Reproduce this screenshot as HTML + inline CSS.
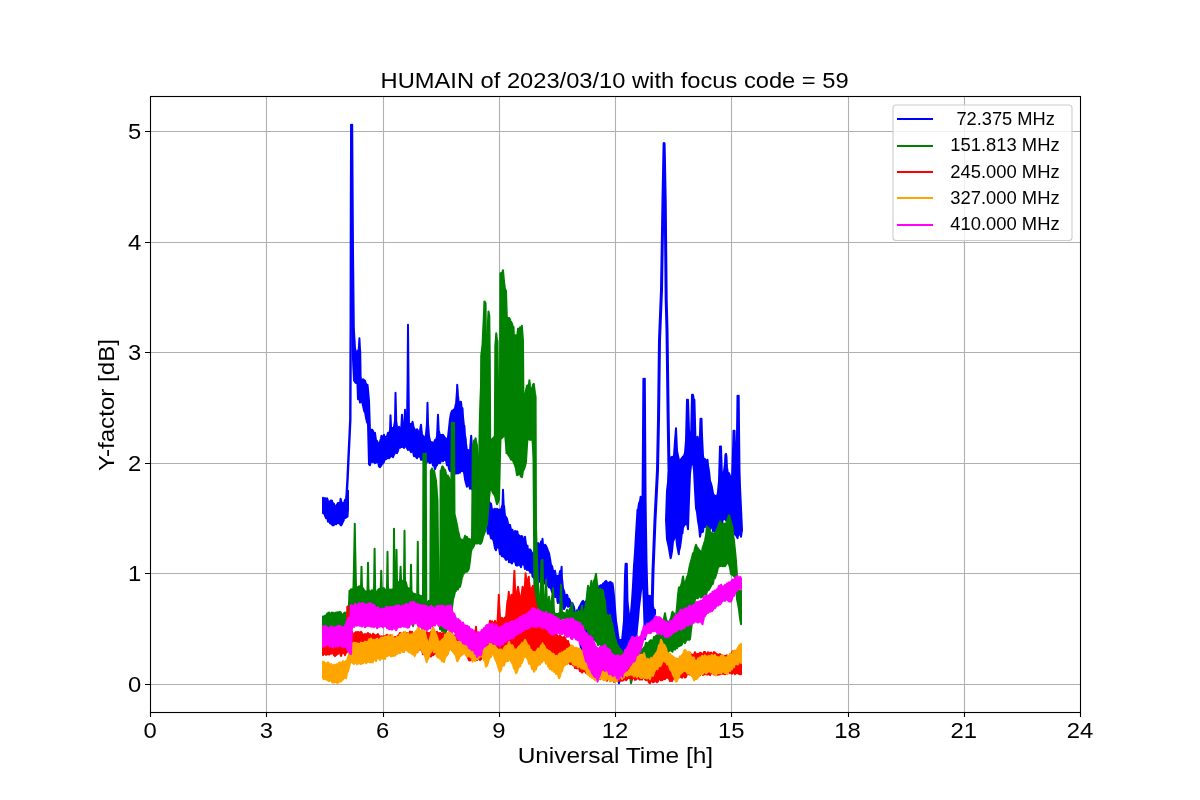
<!DOCTYPE html>
<html><head><meta charset="utf-8"><style>
html,body{margin:0;padding:0;background:#fff;}
svg{display:block;font-family:"Liberation Sans", sans-serif;will-change:transform;}
</style></head><body>
<svg width="1200" height="800" viewBox="0 0 1200 800">
<defs><clipPath id="ax"><rect x="150" y="96" width="931" height="617"/></clipPath></defs>
<rect x="0" y="0" width="1200" height="800" fill="#fff"/>
<path d="M266.5 96V712M383.5 96V712M499.5 96V712M615.5 96V712M731.5 96V712M848.5 96V712M964.5 96V712M150 684.5H1080M150 573.5H1080M150 463.5H1080M150 352.5H1080M150 242.5H1080M150 131.5H1080" stroke="#b0b0b0" stroke-width="1.1" fill="none"/>
<g clip-path="url(#ax)">
<polygon points="323.0,497.8 324.0,498.6 325.0,498.1 326.0,501.0 327.0,498.3 327.5,499.3 328.0,501.4 329.0,501.5 330.0,501.8 331.0,500.4 332.0,500.8 333.0,504.2 334.0,503.8 335.0,506.8 336.0,507.1 337.0,504.4 337.5,504.8 338.0,503.1 339.0,502.9 340.0,503.1 340.6,498.8 341.0,500.0 342.0,504.8 343.0,503.1 344.0,503.5 345.0,499.8 346.0,501.0 347.0,494.8 348.0,490.8 348.0,509.2 347.5,516.7 347.0,515.3 346.0,517.7 345.0,518.0 344.0,517.6 343.8,520.2 343.0,521.5 342.0,523.9 341.0,525.4 340.6,525.2 340.0,523.2 339.0,523.4 338.0,521.4 337.5,523.2 337.0,521.6 336.0,524.3 335.0,521.5 334.0,524.7 333.8,525.2 333.0,525.4 332.0,524.7 331.0,523.4 330.0,523.2 329.0,518.7 328.0,521.7 327.0,515.6 326.0,518.2 325.0,515.7 324.0,513.1 323.0,513.2" fill="#0000ff" stroke="#0000ff" stroke-width="2" stroke-linejoin="round"/>
<polyline points="346.0,505.0 347.5,480.0 348.4,460.0 349.5,437.0 350.3,420.0 350.7,330.0 351.0,200.0 351.3,124.0" fill="none" stroke="#0000ff" stroke-width="2.4" stroke-linejoin="round"/>
<polygon points="351.3,124.8 352.0,126.2 352.2,124.8 353.0,250.8 353.8,326.8 354.0,331.5 355.0,348.3 356.0,352.7 357.0,352.8 358.0,350.5 358.5,350.8 359.0,346.1 359.4,338.3 360.0,349.6 360.2,350.8 360.6,375.8 361.0,380.5 362.0,380.8 363.0,379.2 363.8,379.8 364.0,385.0 365.0,380.7 366.0,384.0 367.0,387.6 367.5,384.8 368.0,389.6 369.0,400.8 370.0,430.8 371.0,432.5 372.0,429.6 373.0,430.8 374.0,434.6 375.0,432.8 376.0,440.3 377.0,440.8 378.0,443.4 379.0,445.7 380.0,441.8 381.0,438.3 381.5,435.8 382.0,438.6 383.0,437.6 384.0,434.8 385.0,438.1 386.0,436.8 387.0,436.3 388.0,432.8 389.0,435.6 389.8,430.8 390.0,431.0 390.5,415.3 391.0,426.5 391.2,428.8 392.0,427.8 393.0,430.1 394.0,426.8 395.0,420.8 395.5,392.8 396.0,411.7 396.2,420.8 397.0,426.8 398.0,429.9 399.0,426.8 400.0,429.5 401.0,431.8 401.3,426.8 402.0,414.8 402.7,426.8 403.0,430.3 403.5,425.8 404.0,424.5 404.4,422.8 405.0,409.8 405.6,422.8 406.0,424.7 407.0,425.8 407.6,380.8 408.0,324.8 408.5,380.8 409.0,425.8 409.5,425.8 410.0,428.4 411.0,423.7 411.5,424.8 412.0,424.8 412.5,421.8 413.0,423.9 413.5,426.8 414.0,428.1 414.5,430.8 415.0,429.5 416.0,433.8 417.0,429.3 417.5,429.8 418.0,431.2 419.0,433.8 420.0,430.3 421.0,424.8 422.0,434.5 423.0,435.8 424.0,437.3 425.0,440.8 426.0,433.9 426.8,425.8 427.0,421.3 427.5,402.8 428.0,423.5 428.2,425.8 429.0,436.3 430.0,440.8 431.0,445.4 432.0,442.1 433.0,443.5 434.0,442.8 435.0,440.0 436.0,439.8 437.0,436.6 437.3,430.8 438.0,414.8 438.7,430.8 439.0,431.4 440.0,435.8 441.0,435.1 442.0,435.1 443.0,434.8 444.0,436.3 445.0,437.8 446.0,439.1 447.0,439.5 448.0,436.8 449.0,428.0 450.0,418.8 451.0,413.3 452.0,410.8 453.0,411.4 453.5,409.8 454.0,409.5 455.0,408.4 455.6,404.8 456.0,404.6 457.0,390.8 457.2,384.8 458.0,395.9 458.8,403.3 459.0,405.6 460.0,405.2 460.6,401.8 461.0,402.0 462.0,410.9 462.5,408.3 463.0,416.5 464.0,426.3 464.4,425.8 465.0,435.7 465.6,438.3 466.0,443.2 466.9,450.8 467.0,451.9 468.0,450.0 469.0,453.4 470.0,450.8 471.0,437.7 471.2,435.8 472.0,449.0 472.3,455.8 473.0,457.5 474.0,459.8 475.0,462.8 476.0,466.1 477.0,466.8 478.0,469.1 479.0,472.7 480.0,475.8 481.0,477.6 482.0,482.0 483.0,482.5 483.8,485.8 484.0,490.7 485.0,491.8 486.0,491.6 487.0,495.0 488.0,498.5 489.0,501.4 490.0,503.3 491.0,503.7 492.0,509.5 493.0,511.6 494.0,509.2 495.0,508.8 496.0,511.0 497.0,508.9 498.0,509.6 498.8,510.8 499.0,511.2 500.0,509.4 501.0,511.7 502.0,506.0 502.5,505.8 503.0,489.8 503.7,505.8 504.0,505.7 505.0,515.8 506.0,517.1 507.0,518.7 508.0,523.3 509.0,526.8 510.0,524.9 511.0,529.6 512.0,533.9 512.5,529.8 513.0,534.1 514.0,533.4 515.0,531.0 516.0,532.1 517.0,531.2 517.5,531.8 518.0,535.8 519.0,535.3 520.0,537.9 521.0,535.9 522.0,536.2 522.5,536.8 523.0,540.6 524.0,541.7 525.0,536.8 526.0,544.4 527.0,547.7 527.5,545.8 528.0,550.3 529.0,551.3 530.0,549.3 531.0,550.8 532.0,553.7 533.0,553.6 534.0,553.8 535.0,549.5 536.0,546.5 537.0,545.1 537.5,543.3 538.0,543.0 539.0,545.0 540.0,545.8 541.0,541.6 542.0,543.8 542.5,538.8 543.0,544.7 544.0,546.5 545.0,544.7 546.0,545.8 547.0,548.2 548.0,550.8 549.0,553.3 550.0,558.8 551.0,564.8 552.0,566.1 553.0,570.4 554.0,573.7 555.0,570.8 556.0,576.8 557.0,576.4 557.5,575.8 558.0,577.8 559.0,577.2 560.0,571.1 560.8,570.8 561.0,572.6 561.6,566.8 562.0,579.2 562.3,580.8 563.0,588.5 564.0,590.8 565.0,595.6 566.0,595.3 567.0,594.7 567.5,595.8 568.0,600.4 569.0,598.7 570.0,600.8 571.0,604.7 572.0,606.8 572.5,603.3 573.0,604.7 574.0,607.1 575.0,612.9 576.0,613.8 577.0,613.3 577.5,614.0 577.5,620.0 577.0,618.5 576.0,616.0 575.0,615.7 574.0,612.4 573.0,610.6 572.0,607.7 571.0,605.8 570.0,606.7 569.0,604.0 568.0,606.8 567.0,603.1 566.0,605.4 565.0,607.0 564.0,609.2 563.0,607.0 562.0,603.0 561.0,604.0 560.0,603.3 559.0,599.6 558.0,603.1 557.5,601.7 557.0,596.1 556.0,597.1 555.0,597.0 554.0,592.6 553.0,589.4 552.0,592.1 551.0,588.6 550.0,586.7 549.0,587.5 548.0,584.8 547.0,585.4 546.0,582.7 545.0,583.6 544.0,580.0 543.0,582.4 542.0,581.8 541.0,581.9 540.0,581.2 539.0,581.8 538.0,580.5 537.0,580.2 536.0,578.8 535.0,576.3 534.0,578.3 533.0,576.8 532.5,576.7 532.0,571.4 531.0,572.4 530.0,572.2 529.0,570.0 528.0,565.8 527.5,569.2 527.0,570.0 526.0,564.4 525.0,569.0 524.0,563.8 523.0,564.5 522.0,562.0 521.0,567.2 520.0,564.4 519.0,565.2 518.0,561.9 517.0,565.7 516.0,565.2 515.0,560.9 514.0,561.5 513.0,558.9 512.0,563.6 511.0,562.6 510.0,558.7 509.0,562.2 508.0,556.8 507.0,559.0 506.0,559.9 505.0,558.2 504.0,556.9 503.0,552.6 502.0,556.4 501.0,554.0 500.0,554.0 499.0,547.4 498.0,547.6 497.0,545.3 496.0,550.3 495.0,548.2 494.0,542.8 493.0,538.4 492.5,539.2 492.0,537.8 491.0,538.3 490.0,534.1 489.0,531.8 488.0,533.8 487.5,531.7 487.0,526.7 486.0,525.6 485.0,522.8 484.0,518.2 483.0,513.3 482.0,510.2 481.0,508.3 480.0,504.2 479.0,498.4 478.0,495.5 477.0,496.9 476.0,495.6 475.0,490.1 474.0,493.0 473.0,486.3 472.0,489.2 471.0,484.5 470.0,488.8 469.0,484.9 468.0,484.0 467.0,486.7 466.0,483.4 465.0,479.2 464.0,472.2 463.0,470.3 462.0,471.2 461.0,468.6 460.0,472.8 459.0,472.0 458.0,473.4 457.0,471.3 456.0,473.6 455.0,473.2 454.0,473.4 453.0,468.4 452.0,467.4 451.0,469.5 450.0,471.2 449.0,469.0 448.0,462.6 447.0,465.2 446.0,460.0 445.0,460.2 444.0,457.6 443.0,461.2 442.0,460.3 441.0,460.6 440.0,463.2 439.0,463.0 438.0,462.6 437.0,465.0 436.0,466.2 435.0,469.2 434.0,465.5 433.0,465.4 432.0,461.2 431.0,461.0 430.0,463.2 429.0,461.2 428.0,461.8 427.0,460.3 426.0,463.7 425.0,464.2 424.0,462.4 423.0,458.7 422.0,459.2 421.0,459.8 420.0,455.2 419.0,456.5 418.0,456.5 417.0,458.2 416.0,456.9 415.0,454.7 414.0,456.2 413.0,451.5 412.0,451.6 411.0,452.1 410.0,450.2 409.0,445.7 408.0,450.1 407.0,448.1 406.0,445.6 405.0,446.2 404.0,447.9 403.0,445.0 402.0,447.2 401.0,446.4 400.0,447.8 399.0,446.3 398.0,450.8 397.0,453.2 396.0,449.8 395.0,452.9 394.0,454.7 393.0,457.2 392.0,456.4 391.0,452.8 390.0,457.2 389.0,458.3 388.0,457.0 387.0,458.5 386.0,459.2 385.0,458.2 384.0,461.8 383.0,463.2 382.0,464.1 381.0,465.7 380.0,467.2 379.0,466.5 378.0,461.7 377.0,460.6 376.0,462.7 375.0,463.2 374.0,459.0 373.0,462.1 372.0,461.7 371.0,460.0 370.0,465.2 369.0,464.2 368.0,424.2 367.0,422.1 366.0,417.9 365.0,411.7 364.4,411.7 364.0,410.0 363.0,405.8 362.0,401.5 361.0,400.3 360.0,402.5 359.0,396.0 358.8,399.2 358.0,399.2 357.5,384.2 357.0,379.2 356.0,383.0 355.0,382.0 354.0,380.2 353.0,359.2 352.0,299.2 351.3,139.2" fill="#0000ff" stroke="#0000ff" stroke-width="2" stroke-linejoin="round"/>
<polygon points="576.0,612.8 577.0,610.4 578.0,611.3 579.0,607.6 580.0,605.8 581.0,603.9 582.0,601.9 583.0,600.8 584.0,602.8 585.0,602.5 586.0,601.3 587.0,599.4 588.0,598.8 589.0,596.8 590.0,595.0 591.0,593.7 592.0,590.8 593.0,588.8 594.0,588.1 595.0,585.7 596.0,583.8 597.0,587.2 598.0,587.7 599.0,586.5 600.0,585.8 601.0,585.1 602.0,587.1 603.0,583.7 604.0,583.1 605.0,581.8 606.0,580.9 607.0,582.4 608.0,582.8 609.0,582.9 610.0,581.8 611.0,582.3 612.0,584.1 612.5,583.3 613.0,586.6 614.0,595.8 615.0,608.4 616.0,620.8 617.0,626.9 618.0,634.8 619.0,640.8 620.0,640.1 621.0,640.0 622.0,640.8 623.0,631.1 624.0,620.8 625.0,575.8 625.6,563.8 626.0,563.8 626.8,563.8 627.0,575.8 627.5,600.8 628.0,606.0 629.0,614.8 630.0,620.8 631.0,612.5 632.0,600.8 633.0,585.2 634.0,565.8 635.0,552.3 636.0,534.4 637.0,518.2 637.5,509.8 638.0,510.6 639.0,503.2 640.0,501.2 640.6,496.8 641.0,499.3 642.0,499.0 642.5,500.8 643.0,435.4 643.4,378.8 644.0,381.4 644.8,378.8 645.0,410.8 645.6,500.8 646.0,529.4 646.5,560.8 647.0,580.6 647.5,595.8 648.0,595.4 649.0,596.9 650.0,595.8 651.0,599.4 652.0,600.8 653.0,606.5 654.0,609.7 655.0,610.0 655.0,614.0 654.0,616.3 653.0,619.2 652.0,621.6 651.0,629.2 650.0,628.0 649.0,624.9 648.0,624.2 647.0,628.3 646.0,633.1 645.0,639.2 644.0,609.0 643.0,579.2 642.0,584.1 641.0,590.7 640.0,599.2 639.0,607.5 638.0,619.1 637.0,629.2 636.0,639.9 635.0,650.1 634.0,659.2 633.0,656.6 632.0,656.4 631.0,653.5 630.0,654.2 629.0,656.6 628.0,659.2 627.0,661.2 626.0,663.1 625.0,664.2 624.0,667.6 623.0,672.7 622.0,679.2 621.0,678.4 620.0,680.1 619.0,683.2 618.0,680.0 617.0,678.1 616.0,675.4 615.0,674.2 614.0,669.3 613.0,668.2 612.0,668.3 611.0,664.3 610.0,664.2 609.0,662.1 608.0,660.8 607.0,658.1 606.0,654.2 605.0,654.2 604.0,652.8 603.0,648.5 602.0,647.0 601.0,645.1 600.0,644.2 599.0,641.2 598.0,640.0 597.0,642.1 596.0,639.2 595.0,639.2 594.0,639.4 593.0,641.7 592.0,643.7 591.0,645.9 590.0,649.2 589.0,648.1 588.0,652.2 587.0,652.4 586.0,654.2 585.0,653.6 584.0,653.0 583.0,651.2 582.0,648.4 581.0,649.2 580.0,641.4 579.0,634.6 578.0,629.8 577.0,622.9 576.0,619.2" fill="#0000ff" stroke="#0000ff" stroke-width="2" stroke-linejoin="round"/>
<polyline points="652.0,612.0 653.0,571.0 655.0,520.0 656.5,490.0 657.5,470.0 658.5,420.0 659.5,340.0 661.5,290.0 663.0,200.0 664.1,143.5 665.2,200.0 666.2,300.0 667.0,330.0 668.2,420.0 669.0,470.0" fill="none" stroke="#0000ff" stroke-width="3.0" stroke-linejoin="round"/>
<polygon points="666.0,520.0 667.0,490.8 668.0,482.3 668.5,470.8 669.0,472.1 670.0,460.8 671.0,457.4 672.0,456.8 673.0,457.8 674.0,455.8 675.0,440.8 676.0,428.3 677.0,450.8 678.0,455.8 679.0,460.3 680.0,462.0 681.0,459.4 681.5,458.3 682.0,458.0 683.0,456.7 684.0,455.8 685.0,452.9 686.0,440.8 687.0,399.8 688.0,399.8 689.0,430.8 690.0,435.7 691.0,440.8 692.0,394.8 693.0,394.8 694.0,400.7 694.4,399.8 695.0,421.6 695.5,440.8 696.0,441.7 697.0,442.5 697.5,436.8 698.0,440.8 699.0,450.8 700.0,433.3 700.5,418.8 701.0,420.6 701.5,418.8 702.0,435.4 703.0,455.8 704.0,460.5 705.0,459.1 706.0,460.8 707.0,464.5 707.5,459.8 708.0,465.1 709.0,470.8 710.0,480.8 711.0,483.5 712.0,487.3 712.5,490.8 713.0,493.5 714.0,495.2 715.0,495.8 716.0,496.3 717.0,495.2 717.5,495.8 718.0,491.5 719.0,480.8 720.0,446.4 721.0,446.4 722.0,478.8 722.5,479.8 723.0,477.4 724.0,470.8 725.0,463.3 725.4,454.8 726.0,453.9 726.4,455.8 727.0,467.4 727.5,470.8 728.0,475.8 729.0,473.1 730.0,475.8 731.0,482.3 732.0,479.8 733.0,450.3 733.5,430.8 734.0,435.2 734.5,430.8 735.0,446.2 735.5,460.8 736.0,466.7 736.5,470.8 737.0,434.4 737.5,395.8 738.0,400.8 738.7,395.8 739.0,426.3 739.5,470.8 740.0,486.8 741.0,508.3 742.0,530.0 742.0,530.0 741.0,536.7 740.0,533.8 739.0,533.3 738.0,535.8 737.5,538.2 737.0,537.1 736.0,535.3 735.0,534.4 734.0,530.9 733.0,530.7 732.0,528.2 731.0,526.7 730.0,524.2 729.0,521.8 728.0,517.2 727.0,516.8 726.0,520.3 725.0,519.2 724.0,519.1 723.0,518.0 722.0,524.1 721.0,526.0 720.0,527.2 719.0,529.1 718.0,529.1 717.0,529.6 716.0,533.2 715.0,532.1 714.0,529.1 713.0,531.0 712.0,525.7 711.0,526.6 710.0,529.2 709.0,527.5 708.0,526.0 707.0,523.9 706.0,524.2 705.0,527.0 704.0,523.8 703.0,531.6 702.0,532.2 701.0,531.9 700.0,536.7 699.0,526.2 698.0,521.0 697.0,512.1 696.0,508.2 695.0,490.4 694.0,470.2 693.0,462.4 692.5,463.2 692.0,463.3 691.0,465.2 690.0,474.2 689.0,499.2 688.0,529.2 687.0,522.3 686.0,524.2 685.0,524.2 684.0,525.6 683.0,527.7 682.5,533.2 682.0,531.3 681.0,540.7 680.0,547.5 679.0,551.0 678.8,554.2 678.0,550.0 677.0,544.7 676.0,535.0 675.0,534.2 674.0,539.3 673.0,541.2 672.0,551.4 671.0,557.2 670.6,558.2 670.0,554.7 669.0,548.5 668.0,543.6 667.0,539.2 666.0,520.0" fill="#0000ff" stroke="#0000ff" stroke-width="2" stroke-linejoin="round"/>
<polygon points="323.0,616.4 324.0,616.4 325.0,615.7 326.0,615.5 327.0,614.2 327.5,613.3 328.0,613.7 329.0,612.5 330.0,613.3 331.0,615.9 332.0,612.5 333.0,613.9 333.8,612.8 334.0,614.3 335.0,615.1 336.0,612.4 337.0,612.4 338.0,612.2 339.0,612.6 340.0,611.8 341.0,613.0 342.0,615.4 343.0,615.4 343.8,613.3 344.0,615.8 345.0,612.6 346.0,612.8 347.0,615.5 348.0,616.3 348.5,613.8 349.0,603.2 349.5,590.8 350.0,592.2 350.6,590.8 351.0,589.3 352.0,589.5 353.0,590.2 353.5,586.8 354.0,563.9 354.8,523.8 355.0,538.8 356.0,586.8 357.0,589.7 358.0,586.9 358.8,586.8 359.0,586.3 360.0,586.5 361.0,586.8 361.5,566.8 362.0,586.8 363.0,588.7 364.0,590.0 365.0,591.8 366.0,591.6 367.0,592.1 367.5,590.8 368.0,562.8 368.5,590.8 369.0,592.9 369.6,590.8 370.0,591.7 371.0,592.1 372.0,590.1 373.0,593.0 374.0,590.8 374.6,548.8 375.0,576.8 375.2,590.8 376.0,593.2 377.0,591.8 378.0,590.1 379.0,589.0 380.0,589.1 380.7,588.8 381.0,580.6 381.2,570.8 381.8,588.8 382.0,590.6 383.0,588.3 384.0,588.2 385.0,589.9 386.0,590.2 387.0,588.8 387.5,551.8 388.0,588.8 389.0,589.8 390.0,589.5 391.0,591.3 392.0,589.4 393.0,590.9 393.5,590.8 394.0,528.8 394.6,590.8 395.0,591.7 396.0,590.8 396.5,549.8 397.0,580.8 398.0,583.6 399.0,582.4 400.0,580.8 400.6,566.8 401.0,578.7 401.2,580.8 402.0,581.8 403.0,580.8 404.0,580.8 404.5,530.8 405.0,580.8 406.0,582.7 407.0,587.3 408.0,588.1 409.0,588.4 410.0,589.1 410.5,590.8 411.0,564.8 411.5,590.8 412.0,592.3 413.0,593.8 414.0,593.7 415.0,594.0 416.0,596.5 417.0,598.3 417.2,595.8 417.8,541.8 418.0,566.3 418.3,595.8 419.0,595.0 420.0,596.2 421.0,595.8 422.0,597.5 423.0,597.8 423.4,453.8 424.0,455.6 425.0,453.7 425.8,453.8 426.0,514.8 426.3,600.8 427.0,602.8 428.0,601.9 429.0,600.7 430.0,603.7 430.3,600.8 430.8,470.8 431.0,470.7 432.0,468.5 433.0,471.9 434.0,470.8 435.0,475.8 436.0,480.8 437.0,494.1 437.5,500.8 438.0,545.7 438.2,560.8 438.5,605.8 439.0,606.1 440.0,608.6 440.3,605.8 440.6,470.8 441.0,470.9 442.0,467.3 442.5,466.3 443.0,467.0 444.0,469.1 445.0,469.8 446.0,473.5 447.0,476.6 448.0,475.8 449.0,478.0 450.0,480.8 451.0,498.1 451.2,500.8 451.8,422.8 452.0,422.7 453.0,425.7 454.0,422.8 454.5,513.8 455.0,515.9 456.0,520.4 457.0,525.3 458.0,530.8 459.0,534.6 460.0,539.8 460.5,538.8 461.0,541.0 462.0,539.8 463.0,540.1 464.0,539.2 465.0,535.8 466.0,536.9 467.0,537.1 468.0,540.8 469.0,538.8 470.0,541.5 471.0,539.4 472.0,540.8 472.8,445.8 473.0,446.7 474.0,440.8 475.0,439.8 475.6,438.3 476.0,441.0 477.0,445.8 477.8,482.8 478.0,483.2 478.8,482.8 479.0,470.2 479.8,420.8 480.0,413.2 480.4,400.8 481.0,385.8 481.2,355.8 482.0,349.4 482.5,344.8 483.0,333.8 484.0,313.4 484.4,301.4 485.0,301.9 485.6,303.3 486.0,356.8 487.0,359.7 487.6,356.8 488.0,320.8 488.5,311.4 489.0,314.1 489.3,315.8 489.8,360.8 490.0,399.8 490.2,437.8 491.0,440.1 492.0,440.1 493.0,438.6 494.0,437.1 494.8,437.8 495.0,401.9 495.3,345.8 496.0,337.1 496.2,333.3 497.0,340.5 497.5,340.8 498.0,380.8 499.0,380.7 500.0,380.8 500.4,273.3 501.0,273.1 502.0,273.9 502.9,270.2 503.0,270.4 504.0,281.4 504.4,284.6 505.0,289.2 506.0,290.8 506.9,319.6 507.0,321.6 508.0,318.1 508.8,318.3 509.0,317.9 510.0,319.4 511.0,324.1 511.2,321.8 512.0,323.6 513.0,327.7 513.5,326.8 514.0,337.7 514.4,341.8 515.0,338.9 515.6,335.2 516.0,335.5 516.9,335.8 517.0,338.0 518.0,328.8 519.0,329.5 520.0,327.4 521.0,328.4 521.9,325.8 522.0,327.5 523.0,340.8 523.5,408.8 524.0,404.6 525.0,395.8 526.0,389.9 527.0,385.8 528.0,385.5 529.0,383.8 529.4,380.2 530.0,385.7 531.0,390.8 532.0,391.0 533.0,384.9 533.8,383.8 534.0,385.6 535.0,393.5 535.6,396.8 536.0,526.8 537.0,560.8 538.0,583.6 539.0,600.8 540.0,603.6 540.5,600.8 541.0,581.4 541.5,560.8 542.0,560.4 542.5,559.8 543.0,581.1 543.5,600.8 544.0,603.5 545.0,605.8 546.0,579.8 547.0,605.8 548.0,604.0 549.0,596.8 550.0,610.8 551.0,603.1 552.0,598.0 553.0,588.3 554.0,612.0 555.0,614.0 556.0,614.3 557.0,614.1 558.0,614.3 559.0,613.2 560.0,612.8 561.0,584.8 562.0,612.8 563.0,612.6 564.0,613.0 565.0,614.9 566.0,613.8 567.0,609.8 568.0,614.0 569.0,611.2 570.0,608.7 571.0,607.8 572.0,602.8 573.0,614.0 574.0,613.4 575.0,612.7 576.0,611.9 577.0,613.2 578.0,611.7 578.7,610.8 579.0,614.2 580.0,612.8 581.0,611.8 582.0,605.8 583.0,613.8 584.0,615.8 585.0,609.9 586.0,603.2 586.5,600.8 587.0,595.3 588.0,585.8 589.0,590.2 589.5,590.8 590.0,590.0 591.0,583.7 591.4,580.8 592.0,586.3 592.5,590.8 593.0,588.2 594.0,580.8 595.0,578.8 596.0,573.8 597.0,583.5 597.5,585.8 598.0,590.3 598.5,590.8 599.0,592.5 600.0,588.8 601.0,591.2 602.0,589.7 603.0,590.8 604.0,598.2 605.0,600.8 606.0,614.5 607.0,614.8 608.0,616.0 609.0,615.3 610.0,614.8 611.0,621.2 612.0,623.5 612.5,625.8 613.0,628.5 614.0,633.7 615.0,638.8 616.0,640.8 617.0,646.0 618.0,645.8 619.0,648.4 620.0,648.7 621.0,650.2 622.0,650.8 623.0,653.6 624.0,652.4 625.0,652.8 626.0,652.8 627.0,655.1 628.0,652.8 629.0,655.4 630.0,657.8 631.0,655.8 632.0,655.3 633.0,656.8 634.0,658.1 635.0,658.2 636.0,655.8 637.0,657.5 638.0,653.1 639.0,653.0 640.0,651.4 641.0,650.8 642.0,649.0 643.0,650.5 644.0,647.4 645.0,647.1 646.0,642.8 647.0,642.9 648.0,644.3 649.0,642.2 650.0,640.8 651.0,640.1 652.0,641.3 653.0,641.1 654.0,637.0 655.0,638.1 656.0,635.8 657.0,636.1 658.0,633.2 659.0,632.6 660.0,630.8 661.0,627.0 662.0,623.7 663.0,620.4 664.0,618.2 665.0,613.3 666.0,619.1 667.0,621.5 668.0,625.8 669.0,621.8 670.0,620.0 671.0,618.2 672.0,613.2 672.5,611.8 673.0,612.7 674.0,613.4 675.0,616.9 676.0,615.8 677.0,607.0 678.0,595.1 678.8,588.3 679.0,587.5 680.0,587.6 681.0,585.8 682.0,582.3 683.0,576.4 684.0,582.7 685.0,585.8 686.0,581.1 687.0,577.1 688.0,575.0 689.0,569.7 690.0,564.8 691.0,561.2 692.0,557.4 693.0,553.3 694.0,553.3 695.0,548.0 696.0,544.8 697.0,547.6 698.0,548.3 699.0,550.0 700.0,550.8 701.0,552.3 702.0,551.8 702.5,548.3 703.0,547.3 704.0,543.7 705.0,540.8 706.0,535.5 707.0,526.4 708.0,527.8 709.0,528.5 710.0,530.8 711.0,534.0 712.0,532.8 713.0,535.0 714.0,533.3 715.0,532.5 716.0,532.8 717.0,528.8 718.0,527.6 719.0,524.4 720.0,521.8 720.6,521.4 721.0,523.0 722.0,524.1 723.0,525.9 724.0,523.5 725.0,524.8 726.0,523.9 727.0,520.5 728.0,518.7 729.0,515.2 730.0,518.2 731.0,522.0 732.0,526.3 732.5,526.8 733.0,534.2 734.0,540.8 735.0,550.3 736.0,560.8 737.0,575.8 738.0,588.8 739.0,590.5 740.0,592.4 741.0,590.8 741.0,624.2 740.0,618.2 739.0,609.7 738.0,603.8 737.0,599.2 736.0,585.6 735.0,576.7 734.0,576.4 733.0,575.1 732.0,574.4 731.0,574.2 730.0,567.6 729.0,564.2 728.0,562.7 727.0,563.2 726.0,564.5 725.0,566.2 724.0,565.4 723.0,566.4 722.0,563.9 721.0,566.0 720.0,565.6 719.0,566.7 718.0,566.8 717.0,572.0 716.0,574.9 715.0,578.3 714.0,577.6 713.0,583.4 712.5,584.2 712.0,582.5 711.0,586.1 710.0,587.8 709.0,589.6 708.0,590.3 707.0,591.3 706.0,595.2 705.0,593.7 704.0,593.8 703.0,596.9 702.0,595.1 701.0,597.5 700.0,596.3 699.0,595.9 698.0,598.2 697.0,598.3 696.0,596.1 695.0,599.2 694.0,607.1 693.0,612.9 692.0,622.7 691.0,630.2 690.0,639.2 689.0,640.0 688.0,638.2 687.0,640.0 686.0,640.6 685.0,643.1 684.0,639.9 683.0,641.3 682.0,644.1 681.0,645.5 680.0,645.2 679.0,646.3 678.0,644.6 677.0,648.3 676.0,646.2 675.0,649.6 674.0,649.2 673.0,649.4 672.5,651.7 672.0,651.2 671.0,649.5 670.0,650.7 669.0,650.8 668.0,652.2 667.0,649.8 666.0,648.8 665.0,651.2 664.0,651.3 663.0,650.7 662.0,654.3 661.0,655.3 660.0,655.1 659.0,658.0 658.0,659.3 657.0,661.4 656.0,661.7 655.0,660.9 654.0,661.4 653.0,661.8 652.0,659.6 651.0,662.2 650.0,662.2 649.0,661.5 648.0,660.1 647.0,659.4 646.0,661.7 645.0,661.0 644.0,661.1 643.0,661.8 642.0,665.8 641.0,666.3 640.0,666.8 639.0,668.0 638.0,665.6 637.0,669.2 636.0,668.9 635.0,671.4 634.0,676.8 633.0,676.0 632.0,678.6 631.0,683.2 630.0,674.6 629.0,670.0 628.0,664.2 627.0,661.1 626.0,661.5 625.0,659.2 624.0,657.7 623.0,657.5 622.0,658.2 621.0,656.3 620.0,655.8 619.0,658.0 618.0,657.8 617.0,656.7 616.0,656.5 615.0,655.1 614.0,652.3 613.0,655.0 612.5,654.2 612.0,654.7 611.0,653.6 610.0,650.0 609.0,652.6 608.0,649.9 607.0,650.9 606.0,650.2 605.0,648.9 604.0,646.9 603.0,647.2 602.0,644.9 601.0,645.6 600.0,643.6 599.0,643.8 598.0,645.2 597.0,641.5 596.0,641.5 595.0,638.2 594.0,638.0 593.0,636.5 592.0,635.4 591.0,632.9 590.0,634.2 589.0,632.9 588.0,631.3 587.0,627.9 586.0,629.2 585.0,628.3 584.0,626.2 583.0,624.9 582.0,627.2 581.0,623.7 580.0,624.2 579.0,622.6 578.0,621.2 577.0,621.9 576.0,618.4 575.0,620.9 574.0,618.6 573.0,619.8 572.0,620.3 571.0,619.2 570.0,620.2 569.0,617.9 568.0,620.0 567.0,618.6 566.0,619.7 565.0,618.6 564.0,618.0 563.0,618.5 562.0,617.4 561.0,618.9 560.0,619.2 559.0,619.7 558.0,618.7 557.0,619.7 556.0,619.0 555.0,617.9 554.0,616.5 553.0,616.5 552.0,615.2 551.0,614.6 550.0,616.7 549.0,617.3 548.0,614.3 547.0,613.8 546.0,613.1 545.0,616.2 544.0,614.9 543.0,614.6 542.0,614.9 541.0,612.2 540.0,614.2 539.0,611.7 538.0,611.3 537.0,610.0 536.0,610.7 535.0,610.0 534.5,609.2 534.0,531.4 533.5,459.2 533.0,448.0 532.5,439.2 532.0,440.1 531.0,437.1 530.0,439.9 529.0,439.2 528.0,438.5 527.5,439.2 527.0,445.5 526.0,461.7 525.0,466.2 524.0,469.2 523.0,470.6 522.0,477.2 521.0,476.7 520.0,474.4 519.0,473.2 518.0,474.8 517.0,475.2 516.0,468.6 515.0,465.2 514.0,463.1 513.0,460.7 512.0,458.8 511.0,459.7 510.0,457.2 509.0,455.9 508.0,454.2 507.0,451.6 506.5,453.2 506.0,444.4 505.0,434.2 504.0,433.7 503.0,436.9 502.0,437.9 501.0,438.6 500.5,439.2 500.0,456.4 499.0,499.2 498.0,502.1 497.0,504.2 496.0,499.9 495.0,496.0 494.0,494.2 493.0,493.1 492.0,490.3 491.0,489.1 490.0,489.2 489.0,499.2 488.0,511.7 487.0,524.2 486.0,527.0 485.0,531.4 484.0,534.2 483.0,536.7 482.0,541.1 481.0,543.2 480.0,544.0 479.0,541.6 478.0,543.2 477.0,543.6 476.0,543.2 475.0,542.3 474.0,545.5 473.0,547.5 472.0,548.5 471.0,551.7 470.0,560.3 469.0,568.2 468.0,570.3 467.0,571.7 466.0,571.8 465.0,571.7 464.0,573.4 463.0,573.1 462.5,576.7 462.0,577.1 461.0,582.6 460.0,586.7 459.0,585.4 458.0,589.4 457.0,587.7 456.0,590.9 455.0,591.7 454.0,595.9 453.0,599.6 452.5,604.2 452.0,608.3 451.0,616.6 450.0,627.2 449.0,625.4 448.0,629.5 447.0,628.6 446.0,631.4 445.0,633.2 444.0,630.8 443.0,628.6 442.0,631.3 441.0,627.5 440.0,629.2 439.0,618.8 438.0,611.2 437.0,609.8 436.0,608.5 435.0,610.4 434.0,609.3 433.0,609.6 432.0,611.1 431.0,608.4 430.0,610.7 429.0,607.8 428.0,608.5 427.0,607.4 426.0,610.4 425.0,610.2 424.0,610.7 423.0,609.5 422.0,608.7 421.0,609.5 420.0,609.7 419.0,606.8 418.0,608.3 417.0,609.6 416.0,609.2 415.0,612.6 414.0,620.4 413.0,626.2 412.0,617.9 411.0,615.1 410.0,609.2 409.0,607.2 408.0,608.7 407.0,609.8 406.0,606.5 405.0,607.0 404.0,609.5 403.0,606.5 402.0,606.4 401.0,608.2 400.0,606.3 399.0,609.3 398.0,606.9 397.0,607.2 396.0,606.2 395.0,606.8 394.0,609.6 393.0,606.4 392.0,608.6 391.0,608.1 390.0,609.9 389.0,608.1 388.0,607.1 387.0,607.2 386.0,609.8 385.0,607.6 384.0,609.9 383.0,608.1 382.0,608.4 381.0,609.7 380.0,608.4 379.0,609.6 378.0,609.7 377.0,608.3 376.0,609.4 375.0,608.3 374.0,607.1 373.0,607.1 372.0,609.2 371.0,608.2 370.0,607.7 369.0,610.0 368.0,608.4 367.0,608.4 366.0,607.5 365.0,608.4 364.0,607.8 363.0,608.5 362.0,608.9 361.0,607.7 360.0,608.0 359.0,607.8 358.0,609.6 357.0,606.8 356.0,610.0 355.0,607.1 354.0,607.9 353.0,609.9 352.0,606.6 351.0,607.3 350.0,609.2 349.0,629.2 348.0,629.1 347.0,629.6 346.0,628.6 345.0,628.1 344.0,628.5 343.0,629.2 342.0,629.4 341.0,626.9 340.0,626.8 339.0,628.5 338.0,629.2 337.0,627.0 336.0,629.5 335.0,626.9 334.0,627.7 333.0,626.6 332.0,628.6 331.0,626.5 330.0,629.9 329.0,628.2 328.0,626.3 327.0,626.4 326.0,629.6 325.0,629.3 324.0,626.3 323.0,629.2" fill="#008000" stroke="#008000" stroke-width="2" stroke-linejoin="round"/>
<polygon points="323.0,642.8 324.0,643.6 325.0,644.9 326.0,644.2 327.0,642.4 328.0,643.7 329.0,645.4 330.0,642.8 331.0,642.6 332.0,643.1 333.0,644.6 334.0,645.2 335.0,642.5 336.0,642.5 337.0,642.9 338.0,643.2 339.0,643.9 340.0,642.5 341.0,643.2 342.0,642.6 343.0,645.7 344.0,644.7 345.0,642.8 346.0,641.0 346.5,640.8 347.0,622.4 347.3,606.8 348.0,606.3 348.2,606.8 349.0,640.8 350.0,638.4 351.0,637.7 352.0,631.8 353.0,634.1 354.0,634.0 355.0,632.9 356.0,632.0 357.0,633.9 358.0,631.9 359.0,632.4 360.0,633.2 361.0,631.9 362.0,633.4 363.0,635.0 364.0,634.7 365.0,634.1 366.0,634.7 367.0,634.1 368.0,633.0 369.0,634.9 370.0,634.2 371.0,635.6 372.0,636.3 373.0,633.8 374.0,634.6 375.0,635.3 376.0,636.0 377.0,634.8 378.0,634.1 379.0,636.1 380.0,636.8 381.0,636.5 382.0,636.3 383.0,636.9 384.0,636.3 385.0,636.3 386.0,635.6 387.0,634.8 388.0,635.5 389.0,637.1 390.0,635.4 391.0,636.2 392.0,638.8 393.0,638.9 394.0,638.2 395.0,637.0 396.0,636.9 397.0,636.6 398.0,635.7 399.0,635.3 400.0,632.8 401.0,633.4 402.0,634.4 403.0,635.4 404.0,632.4 405.0,634.2 406.0,634.6 407.0,633.1 408.0,633.4 409.0,635.3 410.0,631.5 411.0,633.5 412.0,631.9 413.0,634.3 414.0,634.9 415.0,633.2 416.0,631.5 417.0,633.3 418.0,633.1 419.0,633.7 420.0,631.8 421.0,632.9 422.0,633.5 423.0,634.3 424.0,633.1 425.0,632.8 426.0,634.9 427.0,632.1 428.0,634.0 429.0,632.9 430.0,634.4 431.0,631.9 432.0,635.3 433.0,632.9 434.0,631.8 435.0,632.7 436.0,633.3 437.0,631.8 438.0,633.4 439.0,633.5 440.0,632.8 441.0,634.7 442.0,633.4 443.0,633.2 444.0,633.1 445.0,635.2 446.0,636.0 447.0,634.5 448.0,633.4 449.0,635.7 450.0,634.2 451.0,633.6 452.0,633.4 453.0,636.0 454.0,636.2 455.0,635.6 456.0,635.0 457.0,635.5 458.0,634.2 459.0,637.2 460.0,634.9 461.0,636.1 462.0,636.9 463.0,636.9 464.0,635.6 465.0,634.8 466.0,636.2 467.0,638.4 468.0,638.0 469.0,642.0 470.0,640.8 471.0,641.3 472.0,643.2 473.0,640.9 474.0,641.4 475.0,640.8 476.0,626.8 477.0,640.8 478.0,640.6 479.0,641.1 480.0,639.9 481.0,638.9 482.0,641.5 483.0,639.5 484.0,639.1 485.0,638.8 486.0,635.5 487.0,632.6 488.0,628.8 489.0,626.0 490.0,620.8 491.0,622.5 492.0,621.3 493.0,623.5 494.0,623.2 495.0,620.8 496.0,625.1 497.0,630.8 498.0,613.1 498.8,594.8 499.0,601.3 500.0,617.8 501.0,620.2 502.0,617.8 502.5,618.3 503.0,620.6 504.0,619.9 505.0,617.5 506.0,618.3 507.0,605.8 507.5,600.8 508.0,600.0 508.8,591.8 509.0,595.3 510.0,600.8 511.0,596.9 511.5,594.8 512.0,596.3 513.0,600.8 514.0,579.0 514.4,570.8 515.0,587.2 515.5,600.8 516.0,600.1 517.0,592.9 518.0,586.8 519.0,593.5 520.0,600.8 521.0,597.8 522.0,591.8 522.5,586.8 523.0,589.6 524.0,595.8 525.0,584.3 525.6,573.3 526.0,578.1 526.5,580.8 527.0,582.1 528.0,579.8 528.8,576.8 529.0,581.4 530.0,589.0 530.5,590.8 531.0,592.2 532.0,587.7 533.0,585.8 534.0,595.1 535.0,600.8 536.0,605.0 537.0,608.8 538.0,610.6 539.0,615.3 540.0,615.8 541.0,618.3 542.0,618.4 543.0,619.6 544.0,620.4 545.0,623.1 546.0,622.6 547.0,625.5 548.0,625.5 549.0,628.1 550.0,629.3 551.0,630.8 552.0,630.8 553.0,633.9 554.0,631.2 555.0,635.1 556.0,634.2 557.0,635.2 558.0,636.2 559.0,637.6 560.0,635.8 561.0,636.8 562.0,637.3 563.0,639.8 564.0,636.8 565.0,637.8 566.0,640.7 567.0,642.0 568.0,640.9 569.0,644.5 570.0,646.1 571.0,648.3 572.0,647.3 573.0,651.1 574.0,650.6 575.0,650.8 576.0,652.3 577.0,654.4 578.0,651.5 579.0,654.7 580.0,654.8 581.0,654.2 582.0,656.8 583.0,655.3 584.0,656.3 585.0,655.8 586.0,658.3 587.0,660.7 588.0,659.9 589.0,662.2 590.0,662.8 591.0,663.8 592.0,664.7 593.0,666.0 594.0,664.2 595.0,666.6 596.0,665.3 597.0,666.0 598.0,665.4 599.0,666.6 600.0,665.8 601.0,668.9 602.0,667.9 603.0,668.6 604.0,667.0 605.0,667.1 606.0,667.3 607.0,668.6 608.0,669.0 609.0,669.8 610.0,667.1 611.0,669.9 612.0,670.8 613.0,669.6 614.0,667.9 615.0,668.8 616.0,668.8 617.0,667.4 618.0,667.9 619.0,670.5 620.0,669.0 621.0,669.0 622.0,669.2 623.0,669.4 624.0,668.0 625.0,667.8 626.0,667.6 627.0,665.8 628.0,667.6 629.0,667.2 630.0,667.6 631.0,665.7 632.0,667.5 633.0,666.7 634.0,667.9 635.0,665.3 636.0,665.6 637.0,665.0 638.0,667.9 639.0,668.5 640.0,665.8 641.0,667.2 642.0,665.7 643.0,667.2 644.0,666.8 645.0,665.6 646.0,664.1 647.0,664.0 648.0,664.1 649.0,663.4 650.0,662.8 651.0,663.4 652.0,664.0 653.0,664.9 654.0,661.3 655.0,663.1 656.0,660.9 657.0,661.0 658.0,663.5 659.0,662.3 660.0,660.8 661.0,663.5 662.0,661.6 663.0,660.0 664.0,661.4 665.0,662.2 666.0,663.6 667.0,663.7 668.0,661.8 669.0,661.5 670.0,660.8 671.0,660.1 672.0,662.0 673.0,660.1 674.0,659.7 675.0,659.0 676.0,658.7 677.0,661.2 678.0,658.8 679.0,661.9 680.0,658.8 681.0,657.6 682.0,660.1 683.0,656.6 684.0,655.6 685.0,657.7 686.0,655.2 687.0,656.6 688.0,653.8 689.0,652.7 690.0,652.8 691.0,654.9 692.0,654.7 693.0,655.2 694.0,654.7 695.0,652.2 696.0,654.4 697.0,654.7 698.0,653.7 699.0,655.5 700.0,652.8 701.0,652.9 702.0,655.7 703.0,654.7 704.0,651.9 705.0,652.0 706.0,654.4 707.0,655.1 708.0,652.2 709.0,653.1 710.0,654.7 711.0,652.5 712.0,655.3 713.0,653.8 714.0,652.1 715.0,652.8 716.0,653.6 717.0,654.7 718.0,654.5 719.0,655.7 720.0,654.0 721.0,656.8 722.0,655.4 723.0,656.8 724.0,657.1 725.0,655.8 726.0,656.0 727.0,655.4 728.0,656.5 729.0,656.6 730.0,655.5 731.0,654.1 732.0,652.5 733.0,651.1 734.0,654.2 735.0,650.8 736.0,653.5 737.0,654.8 738.0,653.7 739.0,655.6 740.0,657.9 741.0,655.8 741.0,674.2 740.0,674.2 739.0,673.9 738.0,673.3 737.0,672.7 736.0,673.0 735.0,674.2 734.0,673.1 733.0,671.9 732.0,673.7 731.0,671.8 730.0,673.2 729.0,672.0 728.0,671.9 727.0,671.1 726.0,672.4 725.0,674.3 724.0,673.8 723.0,673.7 722.0,673.3 721.0,673.9 720.0,674.2 719.0,674.6 718.0,674.7 717.0,674.7 716.0,673.2 715.0,673.5 714.0,674.4 713.0,673.4 712.0,671.8 711.0,673.2 710.0,675.1 709.0,673.1 708.0,674.5 707.0,674.6 706.0,672.1 705.0,674.2 704.0,673.9 703.0,675.0 702.0,673.6 701.0,672.4 700.0,675.2 699.0,674.1 698.0,675.2 697.0,673.8 696.0,675.5 695.0,674.1 694.0,676.6 693.0,673.3 692.0,673.5 691.0,673.8 690.0,674.6 689.0,673.5 688.0,674.3 687.0,673.6 686.0,677.0 685.0,677.5 684.0,675.7 683.0,676.1 682.0,677.6 681.0,675.9 680.0,677.2 679.0,677.1 678.0,676.4 677.0,677.7 676.0,678.7 675.0,676.5 674.0,676.8 673.0,678.9 672.0,681.1 671.0,678.4 670.0,681.2 669.0,678.5 668.0,677.7 667.0,677.8 666.0,676.7 665.0,679.2 664.0,678.8 663.0,679.5 662.0,680.3 661.0,680.3 660.0,678.9 659.0,678.7 658.0,681.2 657.0,682.2 656.0,681.2 655.0,680.1 654.0,681.9 653.0,682.2 652.0,680.2 651.0,680.7 650.0,683.2 649.0,682.7 648.0,679.6 647.0,679.5 646.0,680.3 645.0,679.2 644.0,676.7 643.0,677.8 642.0,679.6 641.0,678.5 640.0,679.6 639.0,679.0 638.0,678.1 637.0,678.2 636.0,679.6 635.0,679.9 634.0,677.3 633.0,676.7 632.0,679.7 631.0,677.4 630.0,678.1 629.0,677.9 628.0,677.8 627.0,679.2 626.0,680.2 625.0,679.7 624.0,677.9 623.0,680.4 622.0,680.8 621.0,677.9 620.0,680.3 619.0,681.0 618.0,680.9 617.0,680.9 616.0,678.2 615.0,681.2 614.0,681.9 613.0,679.7 612.0,679.6 611.0,679.6 610.0,679.5 609.0,677.6 608.0,677.8 607.0,680.8 606.0,678.0 605.0,679.3 604.0,677.9 603.0,679.2 602.0,677.0 601.0,677.0 600.0,679.2 599.0,676.8 598.0,678.6 597.0,676.6 596.0,676.4 595.0,675.6 594.0,677.1 593.0,674.3 592.0,674.7 591.0,675.0 590.0,674.2 589.0,673.4 588.0,671.3 587.0,673.5 586.0,672.9 585.0,670.2 584.0,671.4 583.0,669.5 582.0,672.6 581.0,670.5 580.0,671.2 579.0,668.0 578.0,667.3 577.0,668.5 576.0,665.8 575.0,668.0 574.0,664.6 573.0,665.1 572.0,663.0 571.0,664.2 570.0,664.0 569.0,662.6 568.0,660.3 567.0,658.6 566.0,658.2 565.0,659.2 564.0,657.7 563.0,659.3 562.0,659.0 561.0,658.2 560.0,657.7 559.0,659.8 558.0,659.8 557.0,659.3 556.0,657.3 555.0,657.1 554.0,659.4 553.0,659.6 552.0,657.9 551.0,659.2 550.0,659.2 549.0,655.5 548.0,656.4 547.0,656.4 546.0,654.0 545.0,651.9 544.0,654.1 543.0,652.6 542.0,650.8 541.0,648.0 540.0,649.2 539.0,650.3 538.0,646.8 537.0,649.7 536.0,648.3 535.0,651.1 534.0,648.1 533.0,650.7 532.0,651.7 531.0,648.7 530.0,648.7 529.0,649.0 528.0,651.7 527.0,652.6 526.0,652.6 525.0,652.7 524.0,652.2 523.0,653.5 522.0,652.0 521.0,651.4 520.0,654.2 519.0,654.6 518.0,650.8 517.0,653.9 516.0,650.6 515.0,652.6 514.0,651.7 513.0,652.7 512.0,651.8 511.0,649.6 510.0,651.5 509.0,651.7 508.0,650.5 507.0,650.8 506.0,648.2 505.0,650.8 504.0,648.9 503.0,648.1 502.0,650.4 501.0,649.5 500.0,649.2 499.0,649.9 498.0,648.3 497.0,649.2 496.0,648.2 495.0,650.4 494.0,650.3 493.0,650.0 492.0,649.5 491.0,649.5 490.0,653.1 489.0,652.0 488.0,653.6 487.0,651.0 486.0,651.4 485.0,654.2 484.0,652.7 483.0,656.7 482.0,655.2 481.0,659.2 480.0,660.0 479.0,659.3 478.0,657.3 477.0,660.1 476.0,657.5 475.0,659.2 474.0,659.7 473.0,659.5 472.0,659.9 471.0,658.9 470.0,660.4 469.0,660.2 468.0,657.8 467.0,655.3 466.0,653.9 465.0,651.2 464.0,649.0 463.0,649.5 462.0,650.5 461.0,648.9 460.0,647.8 459.0,648.4 458.0,650.6 457.0,650.8 456.0,647.1 455.0,648.2 454.0,647.9 453.0,647.4 452.0,650.2 451.0,647.0 450.0,649.2 449.0,647.1 448.0,647.6 447.0,650.2 446.0,651.1 445.0,652.4 444.0,652.2 443.0,649.7 442.0,650.3 441.0,654.0 440.0,654.2 439.0,653.6 438.0,654.0 437.0,653.1 436.0,652.2 435.0,653.6 434.0,654.1 433.0,655.5 432.0,653.0 431.0,656.4 430.0,656.2 429.0,655.3 428.0,654.2 427.0,656.0 426.0,652.4 425.0,652.0 424.0,653.6 423.0,654.2 422.0,650.0 421.0,649.6 420.0,649.2 419.0,649.7 418.0,649.3 417.0,648.6 416.0,648.3 415.0,648.7 414.0,647.6 413.0,644.6 412.0,644.9 411.0,644.9 410.0,643.9 409.0,645.7 408.0,644.1 407.0,645.8 406.0,644.4 405.0,644.5 404.0,642.7 403.0,642.0 402.0,645.5 401.0,645.3 400.0,644.2 399.0,643.1 398.0,643.8 397.0,642.8 396.0,644.5 395.0,642.8 394.0,643.4 393.0,644.7 392.0,643.6 391.0,642.0 390.0,644.2 389.0,645.0 388.0,644.6 387.0,643.2 386.0,643.6 385.0,643.0 384.0,643.8 383.0,642.6 382.0,644.6 381.0,644.6 380.0,644.6 379.0,643.1 378.0,643.6 377.0,643.4 376.0,642.0 375.0,642.0 374.0,643.3 373.0,644.6 372.0,642.6 371.0,642.5 370.0,645.3 369.0,643.9 368.0,642.6 367.0,642.8 366.0,644.7 365.0,645.0 364.0,644.0 363.0,643.2 362.0,643.5 361.0,645.0 360.0,642.3 359.0,643.0 358.0,645.2 357.0,642.9 356.0,643.8 355.0,645.7 354.0,644.7 353.0,642.5 352.0,645.2 351.0,644.8 350.0,645.6 349.0,649.2 348.0,648.3 347.0,652.0 346.0,652.4 345.0,655.2 344.0,652.7 343.0,652.9 342.0,652.9 341.0,655.9 340.0,652.6 339.0,652.9 338.0,653.8 337.0,654.5 336.0,655.1 335.0,656.1 334.0,655.0 333.0,653.0 332.0,652.6 331.0,653.8 330.0,653.4 329.0,654.6 328.0,652.6 327.0,654.4 326.0,654.9 325.0,653.8 324.0,652.9 323.0,655.2" fill="#ff0000" stroke="#ff0000" stroke-width="2" stroke-linejoin="round"/>
<polygon points="323.0,661.8 324.0,662.0 325.0,663.4 326.0,663.2 327.0,664.3 328.0,662.3 329.0,663.9 330.0,666.2 331.0,664.0 332.0,665.5 333.0,665.5 334.0,664.8 335.0,664.7 336.0,667.1 337.0,664.1 338.0,665.6 339.0,662.9 340.0,662.2 341.0,665.0 342.0,662.9 343.0,661.1 344.0,662.1 345.0,661.9 346.0,660.8 347.0,661.2 348.0,657.1 348.5,656.8 349.0,653.1 350.0,645.8 351.0,647.4 352.0,643.3 353.0,645.1 354.0,642.6 355.0,643.1 356.0,642.9 357.0,644.0 358.0,643.5 359.0,644.2 360.0,643.9 361.0,642.5 362.0,643.2 363.0,643.0 364.0,642.8 365.0,641.5 366.0,642.5 367.0,642.0 368.0,642.6 369.0,639.3 370.0,642.0 371.0,638.4 372.0,641.1 373.0,640.2 374.0,639.7 375.0,641.3 376.0,639.5 377.0,638.7 378.0,639.9 379.0,640.1 380.0,638.8 381.0,637.7 382.0,637.8 383.0,637.6 384.0,638.4 385.0,636.5 386.0,636.7 387.0,637.1 388.0,636.2 389.0,635.8 390.0,637.4 391.0,637.4 392.0,634.8 393.0,637.3 394.0,638.6 394.7,638.8 395.0,638.4 396.0,638.1 397.0,636.7 398.0,637.7 399.0,636.9 400.0,634.8 401.0,633.6 402.0,636.3 403.0,633.4 404.0,634.8 405.0,631.8 406.0,634.7 407.0,635.8 408.0,633.4 409.0,634.8 410.0,637.3 411.0,634.4 412.0,635.8 413.0,633.5 414.0,634.0 415.0,632.2 416.0,632.3 417.0,630.2 418.0,627.8 418.7,625.5 419.0,629.7 420.0,631.9 420.5,632.8 421.0,632.1 422.0,629.2 423.0,623.8 424.0,628.4 425.0,632.3 426.0,637.2 427.0,640.3 428.0,643.8 429.0,643.2 430.0,638.7 431.0,634.7 432.0,629.7 433.0,626.8 434.0,629.5 435.0,631.7 436.0,634.5 437.0,636.7 438.0,640.0 439.0,642.5 440.0,641.8 441.0,641.4 442.0,639.8 443.0,639.1 444.0,639.2 445.0,634.8 446.0,634.4 447.0,634.2 448.0,634.4 449.0,631.0 450.0,630.7 451.0,629.5 452.0,634.5 453.0,635.9 454.0,636.7 455.0,637.2 456.0,642.3 457.0,641.8 458.0,642.3 459.0,641.6 460.0,641.0 461.0,636.8 462.0,640.7 463.0,640.2 464.0,640.8 465.0,642.5 466.0,644.8 467.0,645.7 468.0,647.2 469.0,646.8 470.0,648.7 471.0,648.3 472.0,649.2 472.5,649.8 473.0,651.4 474.0,651.5 475.0,650.7 476.0,653.4 477.0,652.2 478.0,650.8 479.0,649.6 480.0,650.7 481.0,651.7 482.0,649.4 483.0,650.5 484.0,648.3 485.0,646.6 486.0,646.9 487.0,648.2 488.0,646.4 489.0,645.8 490.0,643.3 491.0,643.7 492.0,645.3 493.0,646.1 494.0,645.4 495.0,645.8 496.0,648.1 497.0,648.3 498.0,650.8 499.0,649.8 500.0,649.8 501.0,649.4 502.0,650.2 502.5,650.8 503.0,652.2 504.0,648.2 505.0,646.8 506.0,645.7 507.0,645.7 508.0,645.5 509.0,641.8 510.0,644.6 511.0,646.7 512.0,645.1 513.0,646.3 514.0,650.6 515.0,649.8 516.0,649.4 517.0,650.1 518.0,647.9 519.0,646.4 520.0,645.8 521.0,644.7 522.0,642.9 523.0,644.8 524.0,642.4 525.0,639.8 526.0,641.9 527.0,644.0 528.0,645.4 529.0,645.8 530.0,650.7 531.0,649.8 532.0,651.6 533.0,653.4 534.0,651.8 535.0,652.9 536.0,651.8 537.0,650.6 538.0,648.5 539.0,650.6 540.0,649.0 541.0,645.6 542.0,646.6 542.5,643.3 543.0,646.2 544.0,645.3 545.0,647.6 546.0,650.2 547.0,649.5 548.0,652.5 549.0,650.8 550.0,651.6 551.0,652.8 552.0,654.8 553.0,653.6 554.0,654.7 555.0,657.6 556.0,655.8 557.0,656.2 558.0,656.9 559.0,654.2 560.0,653.4 561.0,653.5 562.0,652.3 563.0,654.8 564.0,651.6 565.0,650.8 566.0,651.3 567.0,648.7 568.0,649.5 569.0,648.1 570.0,647.3 571.0,645.8 572.0,645.5 573.0,646.2 574.0,649.3 575.0,647.8 576.0,647.8 577.0,648.0 577.5,648.3 578.0,648.8 579.0,649.1 580.0,648.9 581.0,651.9 582.0,651.2 583.0,651.0 584.0,651.8 585.0,655.2 586.0,654.3 587.0,656.5 588.0,660.2 589.0,658.9 590.0,660.8 591.0,662.6 592.0,665.2 593.0,666.0 594.0,664.5 595.0,666.3 596.0,668.7 597.0,668.4 598.0,671.6 599.0,669.7 600.0,670.8 601.0,672.9 602.0,672.1 603.0,671.2 604.0,672.2 605.0,671.1 606.0,673.5 607.0,671.9 608.0,673.7 609.0,673.4 610.0,672.7 611.0,672.3 612.0,673.9 613.0,672.5 614.0,675.2 615.0,672.8 616.0,672.4 617.0,674.0 618.0,673.3 619.0,673.1 620.0,674.3 621.0,672.8 622.0,673.9 623.0,673.6 624.0,672.7 625.0,673.0 626.0,671.9 627.0,672.3 627.5,672.5 628.0,674.0 629.0,670.2 630.0,669.8 631.0,666.7 632.0,666.7 633.0,664.2 634.0,663.0 635.0,660.4 636.0,657.8 637.0,657.0 637.5,655.8 638.0,655.6 639.0,654.8 640.0,656.7 641.0,654.7 642.0,654.7 643.0,656.3 644.0,653.3 645.0,656.9 646.0,658.8 647.0,660.3 648.0,658.9 649.0,660.8 650.0,659.9 651.0,657.9 652.0,659.3 653.0,658.2 654.0,655.9 655.0,655.1 656.0,653.3 657.0,652.3 658.0,649.7 659.0,645.3 660.0,644.9 661.0,639.8 662.0,642.0 663.0,644.8 664.0,644.7 665.0,646.1 666.0,648.3 667.0,652.5 668.0,653.3 669.0,654.7 670.0,653.6 671.0,655.8 672.0,655.7 673.0,656.8 674.0,657.5 675.0,658.5 676.0,659.5 677.0,658.7 677.5,659.8 678.0,659.4 679.0,659.4 680.0,656.3 681.0,657.5 682.0,655.1 683.0,654.4 684.0,651.2 685.0,649.8 686.0,651.3 687.0,653.0 688.0,652.4 689.0,651.7 690.0,653.3 691.0,656.9 692.0,657.9 693.0,657.3 694.0,657.6 695.0,662.0 696.0,660.8 697.0,661.5 698.0,658.5 699.0,658.5 700.0,657.3 701.0,659.1 702.0,656.1 702.5,655.8 703.0,658.5 704.0,657.8 705.0,655.2 706.0,657.6 707.0,656.4 708.0,657.8 709.0,655.8 710.0,658.0 711.0,655.7 712.0,654.8 713.0,657.9 714.0,655.7 715.0,654.8 716.0,657.7 717.0,656.9 718.0,657.3 719.0,657.8 720.0,657.2 721.0,655.8 722.0,656.8 723.0,655.4 724.0,658.1 725.0,657.2 726.0,657.7 727.0,659.4 727.5,656.8 728.0,655.9 729.0,657.5 730.0,653.8 731.0,655.4 732.0,654.9 733.0,651.8 734.0,650.8 735.0,651.0 736.0,651.7 737.0,649.4 738.0,648.0 739.0,645.8 740.0,644.9 741.0,643.8 741.0,663.2 740.0,660.9 739.0,661.4 738.0,664.5 737.0,664.2 736.0,663.8 735.0,663.3 734.0,667.2 733.0,666.2 732.0,669.3 731.0,668.6 730.0,671.2 729.0,669.9 728.0,672.1 727.5,674.2 727.0,674.1 726.0,672.8 725.0,673.0 724.0,670.6 723.0,671.8 722.5,671.7 722.0,672.2 721.0,673.2 720.0,672.8 719.0,673.2 718.0,671.2 717.0,673.3 716.0,675.4 715.0,675.2 714.0,672.1 713.0,673.3 712.0,671.3 711.0,672.4 710.0,669.3 709.0,671.7 708.0,670.7 707.0,672.7 706.0,673.4 705.0,671.9 704.0,670.9 703.0,673.6 702.5,674.2 702.0,671.8 701.0,674.0 700.0,674.0 699.0,676.4 698.0,677.1 697.0,678.7 696.0,679.0 695.0,679.2 694.0,680.2 693.0,677.4 692.0,676.4 691.0,674.8 690.0,674.2 689.0,671.0 688.0,673.7 687.0,672.6 686.0,671.1 685.0,670.9 684.0,670.2 683.0,671.6 682.0,672.5 681.0,673.5 680.0,673.0 679.0,677.0 678.0,678.4 677.0,680.9 676.0,681.7 675.0,678.9 674.0,676.3 673.0,675.0 672.0,671.8 671.0,670.2 670.0,669.2 669.0,665.7 668.0,664.1 667.0,664.4 666.0,661.4 665.0,661.7 664.0,659.9 663.0,661.2 662.0,662.5 661.0,665.5 660.0,666.2 659.0,666.1 658.0,667.1 657.5,669.2 657.0,667.7 656.0,668.7 655.0,670.4 654.0,672.6 653.0,676.0 652.0,673.6 651.0,675.0 650.0,679.2 649.0,677.8 648.0,677.5 647.0,678.5 646.0,677.3 645.0,678.0 644.0,677.8 643.0,676.1 642.0,677.9 641.0,678.1 640.0,677.2 639.0,674.0 638.0,675.8 637.0,677.3 636.0,675.8 635.0,674.6 634.0,676.6 633.0,675.0 632.0,674.7 631.0,673.7 630.0,674.7 629.0,674.9 628.0,675.4 627.5,675.0 627.0,676.0 626.0,674.5 625.0,673.9 624.0,677.2 623.0,677.3 622.0,678.9 621.0,677.4 620.0,677.0 619.0,678.7 618.0,678.3 617.0,680.8 616.0,680.1 615.0,681.7 614.0,680.9 613.0,679.5 612.0,678.8 611.0,681.1 610.0,681.5 609.0,678.3 608.0,678.6 607.0,679.0 606.0,680.2 605.0,679.3 604.0,680.3 603.0,676.5 602.5,679.2 602.0,677.0 601.0,678.4 600.0,678.3 599.0,677.2 598.0,680.1 597.0,679.3 596.0,678.3 595.0,680.2 594.0,679.1 593.0,677.3 592.0,677.9 591.0,674.6 590.0,676.5 589.0,675.2 588.0,674.8 587.0,673.3 586.0,670.2 585.0,668.0 584.0,669.2 583.0,668.0 582.0,668.6 581.0,668.0 580.0,665.9 579.0,664.6 578.0,667.4 577.5,666.7 577.0,664.1 576.0,664.5 575.0,665.5 574.0,662.9 573.0,664.4 572.0,661.1 571.0,659.6 570.0,661.7 569.0,660.4 568.0,662.5 567.0,664.2 566.0,662.2 565.0,665.2 564.0,665.6 563.0,667.5 562.0,671.3 561.0,671.9 560.0,676.3 559.0,678.2 558.0,674.7 557.0,673.5 556.0,673.9 555.0,671.7 554.0,671.7 553.0,669.6 552.0,670.4 551.0,668.3 550.0,669.2 549.0,667.3 548.0,665.9 547.0,662.8 546.0,663.4 545.0,660.3 544.0,659.2 543.0,660.4 542.0,662.4 541.0,660.8 540.0,664.6 539.0,663.3 538.0,665.4 537.0,665.1 536.0,669.4 535.0,669.8 534.0,671.7 533.0,667.7 532.0,668.9 531.0,664.8 530.0,662.1 529.0,663.8 528.0,659.6 527.0,658.1 526.0,657.1 525.0,656.7 524.0,656.1 523.0,659.6 522.0,662.8 521.0,663.3 520.0,666.5 519.0,666.3 518.0,668.4 517.0,671.8 516.0,673.2 515.0,669.5 514.0,668.5 513.0,664.9 512.0,662.9 511.0,661.5 510.0,659.2 509.0,658.7 508.0,661.0 507.0,661.0 506.0,661.7 505.0,660.9 504.0,665.5 503.0,665.5 502.0,665.8 501.0,670.2 500.0,671.7 499.0,669.7 498.0,666.1 497.0,663.0 496.0,660.7 495.0,658.6 494.0,655.5 493.0,653.9 492.5,653.2 492.0,652.6 491.0,656.9 490.0,657.5 489.0,658.7 488.0,662.7 487.0,665.4 486.0,666.7 485.0,661.3 484.0,660.5 483.0,657.9 482.5,656.7 482.0,655.3 481.0,656.5 480.0,655.1 479.0,657.1 478.0,658.7 477.5,659.2 477.0,658.0 476.0,658.2 475.0,661.1 474.0,658.7 473.0,659.9 472.5,661.7 472.0,658.3 471.0,657.3 470.0,656.7 469.0,655.6 468.0,654.3 467.5,656.7 467.0,655.3 466.0,655.2 465.0,653.2 464.0,651.9 463.0,653.9 462.0,654.8 461.0,655.6 460.0,656.2 459.0,658.0 458.0,660.0 457.3,661.2 457.0,660.9 456.0,656.0 455.0,654.3 454.0,653.0 453.0,651.9 452.0,650.3 451.0,648.0 450.7,648.2 450.0,648.6 449.0,650.1 448.0,653.6 447.0,655.2 446.0,655.9 445.0,657.7 444.0,662.2 443.0,658.9 442.0,661.3 441.0,657.6 440.0,658.8 439.0,656.9 438.0,657.6 437.3,656.2 437.0,656.4 436.0,651.6 435.0,652.3 434.0,652.1 433.0,648.7 432.0,649.2 431.0,652.2 430.0,652.7 429.0,656.3 428.0,659.3 427.0,660.4 426.7,662.2 426.0,659.7 425.0,655.9 424.0,653.9 423.0,652.6 422.0,650.1 421.0,648.7 420.0,648.2 419.0,648.4 418.0,652.0 417.0,652.7 416.0,651.9 415.0,655.2 414.7,656.2 414.0,654.4 413.0,654.4 412.0,653.8 411.0,651.1 410.0,652.8 409.0,651.9 408.0,651.5 407.0,649.9 406.0,649.6 405.0,649.7 404.0,652.1 403.0,649.2 402.7,651.9 402.0,649.8 401.0,651.0 400.0,653.2 399.0,653.1 398.0,651.4 397.0,654.2 396.0,652.5 395.0,655.8 394.0,655.8 393.0,655.7 392.0,656.2 391.0,656.4 390.0,655.1 389.0,654.3 388.0,655.7 387.0,656.0 386.0,655.2 385.0,659.0 384.0,657.2 383.0,658.8 382.0,658.1 381.0,658.2 380.0,659.9 379.0,658.4 378.0,657.1 377.0,658.4 376.0,661.1 375.0,658.8 374.0,658.1 373.0,662.2 372.0,662.3 371.0,662.2 370.0,662.2 369.0,661.8 368.0,661.5 367.0,662.2 366.0,663.2 365.0,662.0 364.0,661.1 363.0,663.2 362.0,663.0 361.0,664.0 360.0,663.5 359.0,663.1 358.0,663.5 357.0,664.3 356.0,661.6 355.0,662.0 354.0,664.2 353.0,663.1 352.0,662.3 351.0,661.8 350.0,663.2 349.0,667.4 348.0,671.2 347.0,672.6 346.0,678.2 345.0,677.6 344.0,677.1 343.0,679.6 342.0,679.3 341.0,681.5 340.0,679.2 339.0,682.1 338.0,682.4 337.5,683.2 337.0,680.4 336.0,682.1 335.0,681.6 334.0,682.5 333.0,682.4 332.0,682.2 331.0,680.0 330.0,679.5 329.0,681.2 328.0,680.1 327.0,680.1 326.0,678.8 325.0,678.6 324.0,679.3 323.0,678.2" fill="#ffa500" stroke="#ffa500" stroke-width="2" stroke-linejoin="round"/>
<polygon points="323.0,626.4 324.0,626.8 325.0,626.0 326.0,626.2 327.0,627.6 328.0,628.9 329.0,628.0 330.0,629.1 331.0,626.3 332.0,626.8 333.0,628.4 334.0,628.0 335.0,627.1 336.0,628.1 337.0,626.8 338.0,625.7 339.0,627.1 340.0,625.7 341.0,627.9 342.0,626.8 343.0,627.4 344.0,627.8 345.0,626.4 346.0,623.7 347.0,620.8 348.0,619.7 348.5,617.8 349.0,620.0 350.0,626.8 351.0,604.8 352.0,607.4 353.0,605.9 354.0,607.4 355.0,603.7 356.0,605.8 357.0,606.1 358.0,604.4 359.0,603.4 360.0,603.6 361.0,603.4 362.0,605.7 363.0,603.0 364.0,605.7 365.0,604.1 366.0,604.4 367.0,604.5 368.0,604.3 369.0,604.6 370.0,602.8 371.0,604.7 372.0,604.2 373.0,606.3 374.0,604.9 375.0,607.2 376.0,607.9 377.0,608.4 378.0,607.1 379.0,609.4 380.0,610.7 381.0,609.2 382.0,608.8 383.0,608.7 384.0,609.4 385.0,610.8 386.0,607.4 387.0,606.7 388.0,608.3 389.0,608.7 390.0,606.8 391.0,608.8 392.0,607.1 393.0,609.5 394.0,606.5 395.0,608.4 396.0,605.8 397.0,605.4 398.0,605.8 399.0,605.4 400.0,607.0 401.0,607.1 402.0,605.8 403.0,605.3 404.0,607.9 405.0,605.3 406.0,604.1 407.0,603.9 408.0,605.8 409.0,606.2 410.0,602.9 411.0,602.0 412.0,604.6 413.0,602.2 414.0,601.8 415.0,605.2 416.0,603.7 417.0,604.7 418.0,604.0 419.0,606.2 420.0,605.3 421.0,604.8 422.0,605.5 423.0,608.1 424.0,605.3 425.0,608.1 426.0,605.8 427.0,606.8 428.0,608.3 429.0,607.3 430.0,609.0 431.0,605.8 432.0,607.7 433.0,607.0 434.0,608.9 435.0,609.0 436.0,607.7 437.0,606.0 438.0,606.0 439.0,606.0 440.0,605.8 441.0,606.6 442.0,605.8 443.0,605.7 444.0,607.9 445.0,607.4 446.0,606.1 447.0,608.8 448.0,605.7 449.0,607.1 450.0,605.5 451.0,605.8 452.0,610.8 453.0,613.3 454.0,613.4 455.0,615.8 456.0,618.8 457.0,620.1 458.0,619.0 459.0,620.2 460.0,620.8 461.0,622.5 462.0,624.7 463.0,622.5 464.0,625.2 465.0,625.6 466.0,625.7 467.0,626.8 467.5,625.8 468.0,628.7 469.0,626.9 470.0,630.3 471.0,629.1 472.0,631.5 472.5,629.8 473.0,632.6 474.0,630.7 475.0,634.0 476.0,635.2 477.0,633.2 477.5,633.3 478.0,632.3 479.0,632.2 480.0,635.1 481.0,631.8 482.0,629.7 483.0,632.1 484.0,627.9 485.0,629.0 486.0,625.8 487.0,624.9 488.0,624.8 489.0,626.4 490.0,623.7 491.0,624.3 492.0,626.2 492.5,623.3 493.0,625.5 494.0,626.7 495.0,627.7 496.0,624.6 497.0,626.0 498.0,628.8 499.0,629.0 500.0,627.8 501.0,626.4 502.0,627.7 503.0,626.0 504.0,626.2 505.0,624.3 506.0,623.4 507.0,626.6 507.5,623.3 508.0,623.5 509.0,625.3 510.0,622.0 511.0,623.1 512.0,621.4 513.0,622.2 514.0,620.9 515.0,620.8 516.0,621.9 517.0,619.1 518.0,620.8 519.0,619.2 520.0,617.0 521.0,617.3 522.0,617.2 522.5,615.8 523.0,618.2 524.0,615.5 525.0,614.5 526.0,616.9 527.0,616.1 527.5,613.3 528.0,614.9 529.0,612.3 530.0,611.1 531.0,610.6 532.0,609.1 533.0,608.2 533.8,608.3 534.0,609.5 535.0,609.5 536.0,610.5 537.0,610.1 538.0,609.1 539.0,612.2 540.0,610.8 541.0,612.6 542.0,612.4 543.0,612.5 544.0,613.3 545.0,614.6 546.0,611.8 547.0,614.8 548.0,614.6 549.0,613.8 550.0,614.0 551.0,614.8 552.0,617.5 552.5,614.8 553.0,615.8 554.0,616.6 555.0,617.4 556.0,617.2 557.0,621.3 558.0,618.2 559.0,619.8 560.0,621.3 561.0,622.5 562.0,619.9 563.0,621.3 564.0,620.4 565.0,619.8 566.0,619.6 567.0,619.2 568.0,618.6 569.0,621.2 570.0,620.7 571.0,618.3 572.0,621.5 573.0,618.7 574.0,621.7 575.0,620.8 576.0,622.6 577.0,622.8 577.5,621.8 578.0,622.5 579.0,625.9 580.0,622.9 581.0,626.6 582.0,627.8 582.5,625.8 583.0,628.1 584.0,630.8 585.0,631.8 586.0,635.6 587.0,633.4 588.0,635.8 589.0,637.0 590.0,635.8 591.0,637.4 592.0,639.7 592.5,638.3 593.0,639.9 594.0,642.5 595.0,644.8 596.0,647.0 597.0,647.7 597.5,648.3 598.0,649.6 599.0,648.8 600.0,647.1 601.0,648.2 602.0,646.3 603.0,648.4 604.0,646.2 605.0,644.8 606.0,647.8 607.0,648.1 608.0,649.1 609.0,649.2 610.0,650.0 611.0,654.1 612.0,653.7 613.0,654.7 614.0,655.9 615.0,655.8 616.0,657.9 617.0,655.6 618.0,655.2 619.0,657.6 620.0,656.0 621.0,656.6 622.0,657.2 622.5,654.8 623.0,656.6 624.0,654.9 625.0,650.1 626.0,649.8 627.0,649.9 627.5,646.8 628.0,648.1 629.0,643.4 630.0,641.5 631.0,639.9 632.0,637.3 632.5,636.8 633.0,637.3 634.0,639.0 635.0,637.9 636.0,637.7 637.0,636.2 638.0,637.4 639.0,639.8 640.0,636.8 641.0,635.9 642.0,632.2 643.0,629.5 644.0,625.8 645.0,627.4 646.0,626.7 647.0,623.7 648.0,625.2 649.0,623.4 650.0,623.4 651.0,621.7 652.0,621.6 652.5,620.8 653.0,620.7 654.0,619.7 655.0,617.1 656.0,616.8 657.0,617.0 658.0,618.7 659.0,617.0 660.0,617.8 661.0,618.3 662.0,621.0 663.0,620.0 664.0,621.0 665.0,621.4 666.0,624.5 667.0,622.4 667.5,623.3 668.0,624.4 669.0,624.4 670.0,621.0 671.0,621.0 672.0,621.6 673.0,620.0 674.0,618.2 675.0,616.8 676.0,614.9 677.0,615.3 678.0,613.8 679.0,614.0 680.0,611.2 681.0,609.8 682.0,610.0 683.0,610.5 684.0,610.7 685.0,608.5 686.0,608.2 687.0,608.5 688.0,609.4 689.0,606.1 690.0,605.8 691.0,608.3 692.0,606.8 693.0,605.1 694.0,605.8 695.0,604.1 696.0,603.3 697.0,601.9 698.0,603.8 699.0,601.6 700.0,601.5 701.0,600.6 702.0,601.4 703.0,600.1 704.0,596.5 705.0,598.0 706.0,595.8 707.0,596.1 708.0,595.5 709.0,596.3 710.0,594.1 711.0,593.7 712.0,594.7 712.5,591.8 713.0,592.2 714.0,591.4 715.0,590.6 716.0,590.9 717.0,589.4 718.0,588.7 719.0,585.8 720.0,586.3 721.0,584.7 722.0,587.1 723.0,586.4 724.0,587.1 725.0,584.8 726.0,586.4 727.0,583.4 728.0,583.3 729.0,582.2 730.0,584.6 731.0,581.8 732.0,580.4 733.0,579.4 734.0,581.1 735.0,579.4 736.0,576.5 737.0,578.0 737.5,575.8 738.0,578.0 739.0,577.9 740.0,576.9 741.0,578.3 741.0,589.2 740.0,586.8 739.0,588.0 738.0,588.9 737.5,590.2 737.0,590.5 736.0,591.3 735.0,592.9 734.0,595.9 733.0,595.3 732.0,599.1 731.0,601.7 730.0,599.7 729.0,601.4 728.0,598.7 727.5,600.2 727.0,597.8 726.0,598.2 725.0,600.8 724.0,600.7 723.0,599.8 722.0,601.5 721.0,603.2 720.0,604.5 719.0,604.4 718.0,605.6 717.0,604.3 716.0,606.5 715.0,608.2 714.0,606.1 713.0,609.7 712.0,611.1 711.0,609.7 710.0,611.8 709.0,609.9 708.0,613.0 707.0,610.6 706.0,614.2 705.0,616.0 704.0,617.1 703.0,621.7 702.5,624.2 702.0,623.4 701.0,621.0 700.0,621.8 699.0,620.3 698.0,622.5 697.0,621.6 696.0,621.7 695.0,619.3 694.0,622.4 693.0,623.1 692.0,621.1 691.0,624.5 690.0,624.2 689.0,623.1 688.0,626.0 687.0,624.0 686.0,625.2 685.0,626.7 684.0,628.2 683.0,626.7 682.0,628.7 681.0,629.7 680.0,629.2 679.0,628.2 678.0,627.7 677.5,630.2 677.0,630.1 676.0,631.4 675.0,631.7 674.0,632.0 673.0,632.2 672.0,633.7 671.0,635.2 670.0,633.2 669.0,636.2 668.0,636.8 667.0,635.2 666.0,637.3 665.0,636.7 664.0,634.0 663.0,633.4 662.0,633.9 661.0,634.4 660.0,632.0 659.0,632.3 658.0,634.0 657.5,633.2 657.0,632.5 656.0,630.9 655.0,630.4 654.0,631.4 653.0,631.0 652.0,631.0 651.0,632.6 650.0,633.2 649.0,632.2 648.0,633.1 647.0,633.1 646.0,635.5 645.0,637.3 644.0,638.2 643.0,640.7 642.0,645.1 641.0,648.3 640.0,651.7 639.0,651.0 638.0,655.0 637.0,654.5 636.0,655.5 635.0,660.5 634.0,661.7 633.0,660.1 632.0,662.8 631.0,662.3 630.0,666.0 629.0,665.0 628.0,666.5 627.5,669.2 627.0,667.6 626.0,670.7 625.0,671.5 624.0,672.2 623.0,673.6 622.5,676.7 622.0,675.1 621.0,675.1 620.0,675.7 619.0,679.2 618.0,676.3 617.0,678.5 616.0,675.5 615.0,675.3 614.0,673.6 613.0,676.1 612.0,674.8 611.0,672.9 610.0,674.2 609.0,674.1 608.0,670.7 607.0,669.8 606.0,670.0 605.0,671.0 604.0,668.6 603.0,667.5 602.5,669.2 602.0,667.8 601.0,670.8 600.0,674.4 599.0,677.0 598.0,678.3 597.5,681.7 597.0,677.9 596.0,676.3 595.0,677.1 594.0,675.9 593.0,674.3 592.0,672.9 591.0,670.4 590.0,669.2 589.0,667.6 588.0,663.7 587.0,661.6 586.0,661.7 585.0,657.4 584.0,653.7 583.0,648.2 582.5,646.7 582.0,645.3 581.0,642.0 580.0,644.3 579.0,639.5 578.0,639.9 577.5,640.2 577.0,637.8 576.0,639.3 575.0,637.2 574.0,637.3 573.0,637.3 572.0,639.2 571.0,638.2 570.0,634.8 569.0,635.8 568.0,636.6 567.0,636.9 566.0,633.8 565.0,635.2 564.0,632.7 563.0,633.1 562.0,634.2 561.0,632.5 560.0,634.1 559.0,633.2 558.0,630.8 557.0,633.2 556.0,632.5 555.0,633.1 554.0,634.6 553.0,633.8 552.0,634.4 551.0,634.2 550.0,631.2 549.0,632.2 548.0,629.4 547.0,628.9 546.0,629.2 545.0,626.6 544.0,627.4 543.0,625.2 542.0,628.4 541.0,624.5 540.0,626.7 539.0,625.6 538.0,624.2 537.0,626.7 536.0,627.1 535.0,626.8 534.0,626.0 533.0,626.8 532.5,626.7 532.0,626.3 531.0,626.1 530.0,626.3 529.0,628.1 528.0,627.3 527.0,629.0 526.0,627.7 525.0,629.2 524.0,628.8 523.0,631.0 522.0,628.7 521.0,632.4 520.0,632.9 519.0,632.2 518.0,631.4 517.5,634.2 517.0,632.2 516.0,635.0 515.0,633.4 514.0,637.2 513.0,638.1 512.5,638.2 512.0,636.7 511.0,638.3 510.0,638.9 509.0,638.5 508.0,640.7 507.0,639.1 506.0,641.8 505.0,641.7 504.0,641.6 503.0,644.5 502.0,643.8 501.0,644.3 500.0,646.7 499.0,643.9 498.0,644.2 497.0,645.4 496.0,644.2 495.0,642.5 494.0,644.0 493.0,642.7 492.0,640.4 491.0,642.3 490.0,641.7 489.0,640.5 488.0,643.3 487.0,643.3 486.0,644.6 485.0,646.6 484.0,646.7 483.0,647.9 482.0,649.6 481.0,655.2 480.0,655.2 479.0,653.2 478.0,655.1 477.5,656.7 477.0,656.9 476.0,652.3 475.0,653.8 474.0,650.3 473.0,648.9 472.0,650.2 471.0,649.2 470.0,648.7 469.0,648.1 468.0,645.5 467.0,644.4 466.0,642.6 465.0,644.2 464.0,642.5 463.0,643.4 462.0,639.5 461.0,640.5 460.0,638.8 459.0,640.2 458.0,638.4 457.0,637.4 456.0,635.1 455.0,632.2 454.0,630.7 453.0,629.7 452.5,631.7 452.0,631.9 451.0,628.6 450.0,630.9 449.0,628.2 448.0,628.7 447.5,629.2 447.0,627.0 446.0,627.5 445.0,628.4 444.0,626.1 443.0,626.8 442.0,624.7 441.0,625.2 440.0,625.2 439.0,626.0 438.0,624.6 437.0,622.3 436.0,623.0 435.0,625.5 434.0,625.2 433.0,623.5 432.0,626.3 431.0,624.7 430.0,628.4 429.0,627.5 428.0,629.1 427.0,630.2 426.0,628.3 425.0,629.2 424.0,628.5 423.0,625.8 422.0,628.4 421.0,627.2 420.0,624.7 419.0,626.5 418.0,625.5 417.0,622.8 416.0,621.2 415.0,623.2 414.0,623.8 413.0,622.9 412.0,624.5 411.0,623.1 410.0,624.4 409.0,627.2 408.0,627.6 407.0,627.4 406.0,626.9 405.0,623.9 404.0,626.8 403.0,624.0 402.0,626.2 401.0,626.9 400.0,627.3 399.0,626.5 398.0,627.1 397.0,628.5 396.0,630.2 395.0,627.8 394.0,628.6 393.0,627.0 392.0,629.7 391.0,627.9 390.0,629.2 389.0,629.2 388.0,625.5 387.0,628.1 386.0,625.2 385.0,626.2 384.0,625.7 383.0,627.4 382.0,624.4 381.0,626.4 380.0,624.7 379.0,626.8 378.0,626.5 377.0,628.2 376.0,625.7 375.0,625.7 374.0,627.1 373.0,624.8 372.0,626.7 371.0,626.5 370.0,626.3 369.0,625.3 368.0,625.9 367.0,625.4 366.0,626.2 365.0,627.2 364.0,625.2 363.0,623.8 362.0,626.6 361.0,624.2 360.0,625.9 359.0,625.0 358.0,625.3 357.0,625.4 356.0,625.7 355.0,625.1 354.0,626.9 353.0,626.3 352.0,626.2 351.0,654.2 350.0,653.1 349.0,649.8 348.0,651.2 347.0,647.5 346.0,645.7 345.0,646.7 344.0,646.4 343.0,647.4 342.0,646.0 341.0,645.6 340.0,645.4 339.0,644.3 338.0,646.6 337.0,646.4 336.0,646.6 335.0,646.5 334.0,643.7 333.0,647.6 332.0,645.6 331.0,646.3 330.0,647.0 329.0,644.2 328.0,644.4 327.0,643.7 326.0,645.3 325.0,646.0 324.0,644.9 323.0,646.7" fill="#ff00ff" stroke="#ff00ff" stroke-width="2" stroke-linejoin="round"/>
</g>
<rect x="150.5" y="96.5" width="930" height="616" fill="none" stroke="#000" stroke-width="1.1"/>
<path d="M150.5 712V717M266.5 712V717M383.5 712V717M499.5 712V717M615.5 712V717M731.5 712V717M848.5 712V717M964.5 712V717M1080.5 712V717M145 684.5H150M145 573.5H150M145 463.5H150M145 352.5H150M145 242.5H150M145 131.5H150" stroke="#000" stroke-width="1.1" fill="none"/>
<text x="150.0" y="738" text-anchor="middle" font-size="21.4" textLength="13.25" lengthAdjust="spacingAndGlyphs">0</text>
<text x="266.25" y="738" text-anchor="middle" font-size="21.4" textLength="13.25" lengthAdjust="spacingAndGlyphs">3</text>
<text x="382.5" y="738" text-anchor="middle" font-size="21.4" textLength="13.25" lengthAdjust="spacingAndGlyphs">6</text>
<text x="498.75" y="738" text-anchor="middle" font-size="21.4" textLength="13.25" lengthAdjust="spacingAndGlyphs">9</text>
<text x="615.0" y="738" text-anchor="middle" font-size="21.4" textLength="26.50" lengthAdjust="spacingAndGlyphs">12</text>
<text x="731.25" y="738" text-anchor="middle" font-size="21.4" textLength="26.50" lengthAdjust="spacingAndGlyphs">15</text>
<text x="847.5" y="738" text-anchor="middle" font-size="21.4" textLength="26.50" lengthAdjust="spacingAndGlyphs">18</text>
<text x="963.75" y="738" text-anchor="middle" font-size="21.4" textLength="26.50" lengthAdjust="spacingAndGlyphs">21</text>
<text x="1080.0" y="738" text-anchor="middle" font-size="21.4" textLength="26.50" lengthAdjust="spacingAndGlyphs">24</text>
<text x="141.2" y="692.1" text-anchor="end" font-size="21.4" textLength="13.25" lengthAdjust="spacingAndGlyphs">0</text>
<text x="141.2" y="581.1" text-anchor="end" font-size="21.4" textLength="13.25" lengthAdjust="spacingAndGlyphs">1</text>
<text x="141.2" y="471.1" text-anchor="end" font-size="21.4" textLength="13.25" lengthAdjust="spacingAndGlyphs">2</text>
<text x="141.2" y="360.1" text-anchor="end" font-size="21.4" textLength="13.25" lengthAdjust="spacingAndGlyphs">3</text>
<text x="141.2" y="250.1" text-anchor="end" font-size="21.4" textLength="13.25" lengthAdjust="spacingAndGlyphs">4</text>
<text x="141.2" y="139.1" text-anchor="end" font-size="21.4" textLength="13.25" lengthAdjust="spacingAndGlyphs">5</text>
<text x="614.6" y="87.6" text-anchor="middle" font-size="21.2" textLength="468" lengthAdjust="spacingAndGlyphs">HUMAIN of 2023/03/10 with focus code = 59</text>
<text x="615.4" y="762.5" text-anchor="middle" font-size="21.2" textLength="195.5" lengthAdjust="spacingAndGlyphs">Universal Time [h]</text>
<text transform="translate(114 405) rotate(-90)" x="0" y="0" text-anchor="middle" font-size="21.2" textLength="132" lengthAdjust="spacingAndGlyphs">Y-factor [dB]</text>
<g id="legend">
<rect x="893" y="105" width="179" height="135.5" rx="3" ry="3" fill="#fff" fill-opacity="0.8" stroke="#ccc" stroke-width="1.1"/>
<path d="M897 119H933" stroke="#0000ff" stroke-width="2.1"/>
<text x="956.4" y="125.00" font-size="17.6" textLength="98.5" lengthAdjust="spacingAndGlyphs">72.375 MHz</text>
<path d="M897 146H933" stroke="#008000" stroke-width="2.1"/>
<text x="950.2" y="151.25" font-size="17.6" textLength="109.5" lengthAdjust="spacingAndGlyphs">151.813 MHz</text>
<path d="M897 172H933" stroke="#ff0000" stroke-width="2.1"/>
<text x="950.2" y="177.50" font-size="17.6" textLength="109.5" lengthAdjust="spacingAndGlyphs">245.000 MHz</text>
<path d="M897 198H933" stroke="#ffa500" stroke-width="2.1"/>
<text x="950.2" y="203.75" font-size="17.6" textLength="109.5" lengthAdjust="spacingAndGlyphs">327.000 MHz</text>
<path d="M897 225H933" stroke="#ff00ff" stroke-width="2.1"/>
<text x="950.2" y="230.00" font-size="17.6" textLength="109.5" lengthAdjust="spacingAndGlyphs">410.000 MHz</text>
</g>
</svg></body></html>
